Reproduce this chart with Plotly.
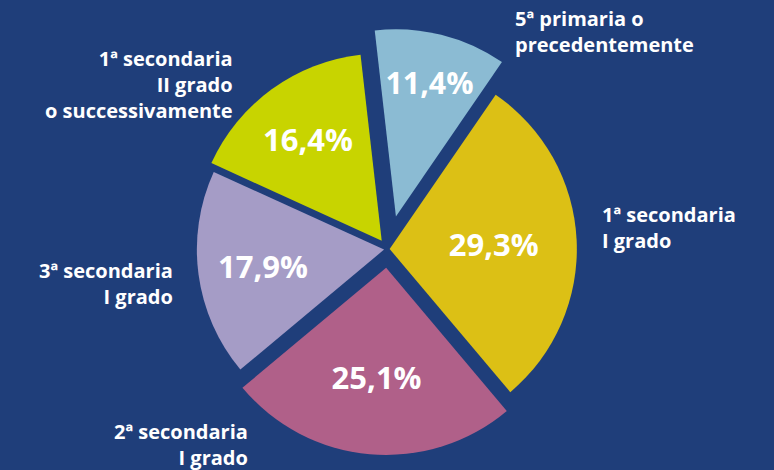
import plotly.graph_objects as go

# classe frequentata - quote percentuali
categories = [
    "5ª primaria o<br>precedentemente",
    "1ª secondaria<br>I grado",
    "2ª secondaria<br>I grado",
    "3ª secondaria<br>I grado",
    "1ª secondaria<br>II grado<br>o successivamente",
]
values = [11.4, 29.3, 25.1, 17.9, 16.4]
colors = ["#8bbbd3", "#dcc015", "#b06089", "#a59cc6", "#c8d400"]
pulls = [0.18, 0.01, 0.1, 0.02, 0.055]

pct_text = [f"{v:.1f}".replace(".", ",") + "%" for v in values]

bg = "#1f3e7a"
font_name = "Open Sans"

fig = go.Figure()
fig.add_trace(
    go.Pie(
        labels=categories,
        values=values,
        text=pct_text,
        textinfo="text",
        textposition="inside",
        insidetextorientation="horizontal",
        textfont=dict(family=font_name, size=31, color="white", weight="bold"),
        marker=dict(colors=colors, line=dict(width=0)),
        pull=pulls,
        sort=False,
        direction="clockwise",
        rotation=-6.5,
        hoverinfo="label+text",
        domain=dict(x=[0.201, 0.801], y=[0, 0.94]),
        showlegend=False,
    )
)

# etichette delle categorie (posizione in pixel -> paper)
W, H = 774, 470
label_pos = [
    (513, 32, "left"),
    (600, 227, "left"),
    (250, 444, "right"),
    (175, 283, "right"),
    (235, 84, "right"),
]
for name, (px, py, side) in zip(categories, label_pos):
    fig.add_annotation(
        x=px / W,
        y=1 - py / H,
        xref="paper",
        yref="paper",
        text=name,
        showarrow=False,
        xanchor=side,
        yanchor="middle",
        align=side,
        font=dict(family=font_name, size=20, color="white", weight="bold"),
    )

fig.update_layout(
    width=W,
    height=H,
    margin=dict(l=0, r=0, t=0, b=0),
    paper_bgcolor=bg,
    plot_bgcolor=bg,
)

fig.write_html(
    "out.html",
    config=dict(displayModeBar=False),
    post_script="document.body.style.margin='0';document.body.style.overflow='hidden';",
)
